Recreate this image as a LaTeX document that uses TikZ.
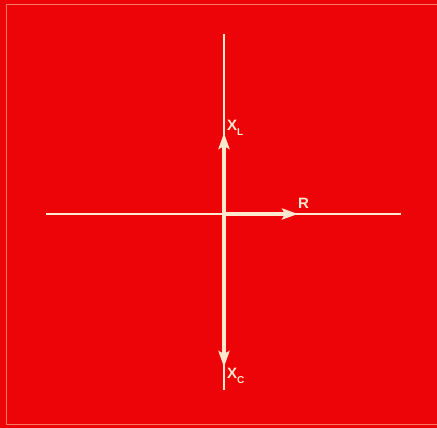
\documentclass[tikz,border=0pt]{standalone}
\usepackage{fontspec}
\setmainfont{Liberation Sans}
\usetikzlibrary{arrows.meta}
\definecolor{bgred}{RGB}{236,4,8}
\definecolor{cream}{RGB}{255,232,205}
\definecolor{framec}{RGB}{248,120,100}
\begin{document}
\begin{tikzpicture}[x=1pt,y=1pt,
  axis/.style={draw=cream,line width=1.4pt},
  vec/.style={draw=cream,line width=3.2pt,-{Stealth[length=16pt,width=11pt,inset=3pt]}},
  lab/.style={text=cream,font=\bfseries\fontsize{15}{15}\selectfont,inner sep=0pt}]
\fill[bgred] (0,0) rectangle (437,428);
\useasboundingbox (0,0) rectangle (437,428);
\draw[framec,line width=1pt] (437,423) -- (6,423) -- (6,3) -- (437,3);
\coordinate (O) at (224,214);
\coordinate (T) at (224,394);
\coordinate (B) at (224,38);
\coordinate (Lf) at (46,214);
\coordinate (Rt) at (401,214);
\coordinate (XL) at (224,295);
\coordinate (RR) at (298,214);
\coordinate (XC) at (224,61);
\draw[axis] (T) -- (B);
\draw[axis] (Lf) -- (Rt);
\draw[vec] (O) -- (XL);
\draw[vec] (O) -- (RR);
\draw[vec] (O) -- (XC);
\node[lab,anchor=base west] (xl) at (227,297) {X\raisebox{-5pt}{\fontsize{10}{10}\selectfont L}};
\node[lab,anchor=base west] (r) at (298,219) {R};
\node[lab,anchor=base west] (xc) at (227,49) {X\raisebox{-5pt}{\fontsize{10}{10}\selectfont C}};
\end{tikzpicture}
\end{document}
